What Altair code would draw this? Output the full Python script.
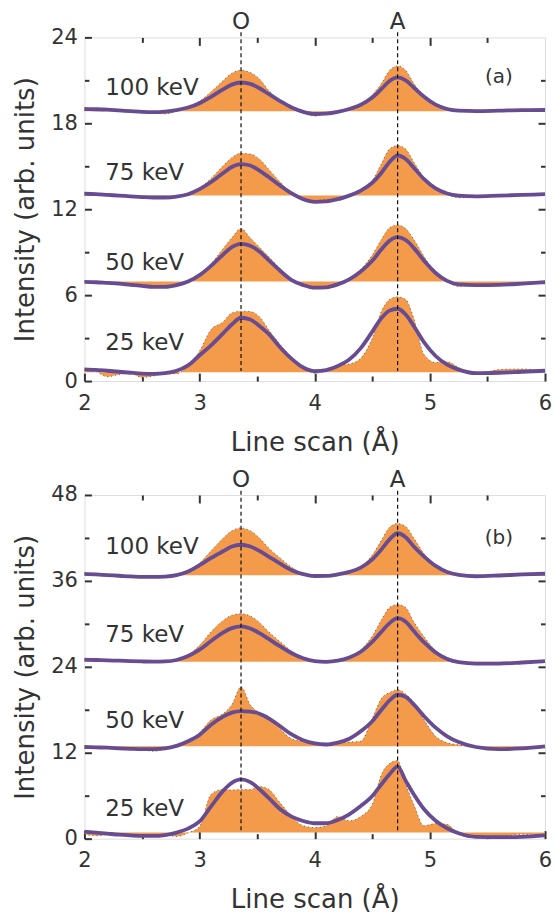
import altair as alt
import pandas as pd

# ---------------- data ----------------
X = [2.0, 2.1, 2.2, 2.3, 2.4, 2.5, 2.6, 2.7, 2.8, 2.9, 3.0, 3.1, 3.2, 3.28, 3.36,
     3.44, 3.52, 3.6, 3.7, 3.8, 3.9, 4.0, 4.1, 4.2, 4.3, 4.4, 4.5, 4.58, 4.65, 4.72,
     4.79, 4.86, 4.95, 5.05, 5.15, 5.25, 5.4, 5.6, 5.8, 6.0]

ENERGIES = ["100 keV", "75 keV", "50 keV", "25 keV"]

# panel (a)
A100_DATA = [19.0, 18.98, 18.95, 18.9, 18.85, 18.8, 18.75, 18.65, 18.85, 19.15, 19.55, 20.2, 20.95, 21.5, 21.7,
             21.55, 21.1, 20.3, 19.6, 19.05, 18.75, 18.5, 18.65, 18.75, 19.0, 19.35, 20.0, 20.8, 21.7, 22.0,
             21.7, 20.8, 19.9, 19.3, 19.0, 18.85, 18.9, 18.95, 18.95, 18.95]
A100_FIT = [19.0, 18.98, 18.95, 18.9, 18.85, 18.8, 18.78, 18.82, 18.92, 19.1, 19.4, 19.85, 20.35, 20.7, 20.85,
            20.75, 20.45, 20.05, 19.55, 19.1, 18.8, 18.65, 18.68, 18.8, 19.0, 19.3, 19.8, 20.4, 20.95, 21.2,
            21.0, 20.5, 19.85, 19.3, 19.0, 18.88, 18.85, 18.88, 18.92, 18.93]
A75_DATA = [13.15, 13.1, 13.0, 12.95, 12.9, 12.85, 12.8, 12.85, 12.9, 13.1, 13.5, 14.15, 15.0, 15.6, 15.9,
            15.85, 15.5, 14.8, 13.9, 13.15, 12.75, 12.6, 12.65, 12.6, 12.95, 13.35, 14.0, 15.2, 16.2, 16.45,
            16.2, 15.3, 14.2, 13.4, 13.05, 12.8, 12.85, 12.95, 13.05, 13.1]
A75_FIT = [13.08, 13.05, 13.0, 12.95, 12.9, 12.85, 12.82, 12.82, 12.88, 13.05, 13.4, 13.9, 14.5, 14.95, 15.15,
           15.05, 14.7, 14.25, 13.65, 13.1, 12.7, 12.52, 12.55, 12.7, 12.95, 13.3, 13.85, 14.55, 15.3, 15.75,
           15.5, 14.9, 14.1, 13.45, 13.1, 12.95, 12.9, 12.95, 13.0, 13.05]
A50_DATA = [6.95, 6.92, 6.88, 6.85, 6.8, 6.7, 6.55, 6.6, 6.75, 6.95, 7.45, 8.2, 9.2, 10.0, 10.65,
            10.0, 9.35, 8.7, 7.85, 7.1, 6.75, 6.45, 6.55, 6.75, 7.15, 7.8, 8.8, 9.9, 10.7, 10.9,
            10.65, 9.9, 8.7, 7.55, 6.95, 6.6, 6.7, 6.72, 6.85, 7.0]
A50_FIT = [6.93, 6.9, 6.85, 6.8, 6.72, 6.65, 6.58, 6.58, 6.7, 6.95, 7.4, 8.05, 8.8, 9.35, 9.58,
           9.45, 9.05, 8.45, 7.7, 7.05, 6.7, 6.52, 6.55, 6.75, 7.1, 7.65, 8.4, 9.2, 9.8, 10.05,
           9.85, 9.3, 8.4, 7.55, 7.0, 6.75, 6.7, 6.72, 6.8, 6.9]
A25_DATA = [0.8, 0.65, 0.3, 0.45, 0.55, 0.25, 0.35, 0.5, 0.5, 1.1, 2.1, 3.6, 4.1, 4.75, 4.88,
            4.85, 4.5, 3.6, 2.55, 1.65, 0.93, 0.55, 0.7, 1.1, 1.2, 1.6, 3.0, 4.9, 5.7, 5.88,
            5.7, 4.4, 1.85, 1.3, 1.35, 0.95, 0.5, 0.8, 0.85, 0.7]
A25_FIT = [0.82, 0.78, 0.72, 0.65, 0.58, 0.52, 0.5, 0.55, 0.72, 1.1, 1.8, 2.5, 3.3, 3.95, 4.42,
           4.3, 3.85, 3.3, 2.35, 1.55, 0.95, 0.7, 0.77, 1.05, 1.5, 2.3, 3.45, 4.4, 4.92, 5.05,
           4.65, 3.85, 2.7, 1.75, 1.15, 0.8, 0.55, 0.58, 0.65, 0.72]
A_BASE = [18.85, 12.95, 6.95, 0.62]

# panel (b)
B100_DATA = [36.95, 36.9, 36.8, 36.7, 36.6, 36.5, 36.45, 36.6, 36.85, 37.4, 38.5, 40.2, 41.9, 43.0, 43.4,
             43.0, 42.0, 40.6, 39.2, 37.9, 37.0, 36.5, 36.6, 36.85, 37.3, 38.0, 39.6, 41.7, 43.5, 44.0,
             43.6, 42.0, 39.8, 38.1, 37.2, 36.8, 36.7, 36.8, 36.9, 37.0]
B100_FIT = [36.97, 36.9, 36.8, 36.72, 36.62, 36.56, 36.55, 36.6, 36.8, 37.3, 38.2, 39.2, 40.1, 40.8, 41.05,
            40.8, 40.2, 39.4, 38.4, 37.5, 36.95, 36.68, 36.7, 36.9, 37.25, 37.85, 39.0, 40.4, 41.8, 42.65,
            42.1, 40.8, 39.4, 38.1, 37.25, 36.85, 36.65, 36.75, 36.9, 37.0]
B75_DATA = [25.0, 24.95, 24.85, 24.8, 24.75, 24.7, 24.65, 24.7, 25.0, 25.7, 27.0, 28.9, 30.4, 31.2, 31.4,
            31.1, 30.2, 28.9, 27.5, 26.2, 25.3, 24.75, 24.6, 24.85, 25.4, 26.4, 28.3, 30.6, 32.3, 32.7,
            32.3, 30.3, 28.2, 26.3, 25.3, 24.8, 24.5, 24.5, 24.6, 24.8]
B75_FIT = [25.0, 24.95, 24.9, 24.85, 24.8, 24.75, 24.72, 24.75, 24.95, 25.5, 26.4, 27.6, 28.75, 29.4, 29.65,
           29.35, 28.7, 27.9, 26.85, 25.9, 25.2, 24.8, 24.7, 24.85, 25.3, 26.1, 27.5, 28.9, 30.1, 30.8,
           30.3, 29.0, 27.4, 26.0, 25.1, 24.65, 24.45, 24.45, 24.6, 24.8]
B50_DATA = [12.85, 12.75, 12.7, 12.6, 12.5, 12.4, 12.2, 12.5, 12.9, 13.6, 14.8, 16.6, 17.4, 18.7, 21.2,
            18.7, 17.6, 17.1, 15.3, 13.95, 13.6, 13.4, 13.1, 13.35, 13.5, 13.6, 16.8, 19.6, 20.4, 20.8,
            20.2, 19.0, 16.6, 14.3, 13.4, 13.1, 12.75, 12.5, 12.7, 13.0]
B50_FIT = [12.8, 12.75, 12.7, 12.62, 12.55, 12.5, 12.5, 12.6, 12.95, 13.6, 14.5, 15.9, 17.0, 17.6, 17.82,
           17.75, 17.45, 16.8, 15.7, 14.55, 13.75, 13.3, 13.15, 13.4, 13.95, 15.0, 16.4, 18.0, 19.3, 20.1,
           19.8, 18.75, 17.1, 15.5, 14.3, 13.5, 12.8, 12.5, 12.6, 12.9]
B25_DATA = [0.6, 0.4, 0.55, 0.6, 0.45, 0.3, 0.5, 0.55, 0.3, 0.8, 1.7, 6.2, 6.88, 6.8, 6.85,
            6.85, 7.3, 6.9, 5.0, 3.1, 1.8, 1.55, 1.75, 3.1, 2.5, 3.1, 4.8, 9.0, 10.5, 10.9,
            7.6, 4.8, 1.8, 2.1, 2.0, 0.6, 0.15, 0.25, 0.6, 0.45]
B25_FIT = [0.98, 0.85, 0.7, 0.55, 0.45, 0.38, 0.38, 0.5, 0.85, 1.4, 2.4, 4.5, 6.6, 7.8, 8.28,
           7.9, 6.9, 5.7, 4.1, 3.07, 2.47, 2.15, 2.15, 2.6, 3.4, 4.55, 5.95, 7.6, 9.0, 10.05,
           8.1, 6.2, 4.1, 2.5, 1.45, 0.75, 0.25, 0.2, 0.25, 0.45]
B_BASE = [36.8, 24.7, 12.9, 0.85]

PEAKS_X = [3.36, 4.72]
PEAK_NAMES = ["O", "A"]

# annotation positions (data units)
LABEL_X = 2.18
A_LABEL_Y = [20.45, 14.5, 8.26, 2.67]
B_LABEL_Y = [40.7, 28.5, 16.4, 4.1]

X_MAJOR = [2, 3, 4, 5, 6]
X_MINOR = [2.5, 3.5, 4.5, 5.5]
A_Y_MAJOR = [0, 6, 12, 18, 24]
A_Y_MINOR = [3, 9, 15, 21]
B_Y_MAJOR = [0, 12, 24, 36, 48]
B_Y_MINOR = [6, 18, 30, 42]

# ---------------- style ----------------
ORANGE = "#F49A4B"
PURPLE = "#684C92"
INK = "#333333"
FONT = "DejaVu Sans"
W, H = 461, 344


def tick_axis(orient, values, size, labels=False, title=None, label_pad=0, title_pad=0):
    kw = dict(orient=orient, values=values, tickSize=size, offset=-size, domain=False,
              grid=False, ticks=True, tickColor=INK, tickWidth=2, labels=labels)
    if labels:
        kw.update(labelFont=FONT, labelFontSize=21, labelColor=INK, labelPadding=label_pad,
                  labelFlush=False, labelOverlap=False, format="d")
    if title is not None:
        kw.update(title=title, titleFont=FONT, titleFontSize=26, titleFontWeight="normal",
                  titleColor=INK, titlePadding=title_pad)
    else:
        kw.update(title=None)
    return alt.Axis(**kw)


def panel(datas, fits, bases, ymax, ymaj, ymin, label_y, tag, tag_y, peak_y, rule_top, rule_bot):
    rows = []
    for name, d, f, b in zip(ENERGIES, datas, fits, bases):
        assert len(d) == len(X) and len(f) == len(X)
        for x, dv, fv in zip(X, d, f):
            rows.append(dict(x=x, val=dv, fit=fv, base=b, series=name))
    df = pd.DataFrame(rows)

    xs = alt.Scale(domain=[2, 6], nice=False, zero=False)
    ys = alt.Scale(domain=[0, ymax], nice=False, zero=False)
    base = alt.Chart(df)

    area = base.mark_area(color=ORANGE, interpolate="monotone", opacity=1).encode(
        x=alt.X("x:Q", scale=xs,
                axis=tick_axis("bottom", X_MAJOR, 8, labels=True, title="Line scan (Å)",
                               label_pad=11, title_pad=16)),
        y=alt.Y("val:Q", scale=ys, stack=None,
                axis=tick_axis("left", ymaj, 7, labels=True, title="Intensity (arb. units)",
                               label_pad=7, title_pad=12)),
        y2="base:Q",
        detail="series:N",
    )
    dots = base.mark_line(color="#1a1a1a", strokeDash=[1.2, 2.8], strokeWidth=0.9,
                          interpolate="monotone", opacity=0.6).encode(
        x=alt.X("x:Q", scale=xs, axis=tick_axis("bottom", X_MINOR, 5)),
        y=alt.Y("val:Q", scale=ys, axis=tick_axis("left", ymin, 4.5)),
        detail="series:N",
    )
    fit = base.mark_line(color=PURPLE, strokeWidth=3.8, interpolate="monotone").encode(
        x=alt.X("x:Q", scale=xs, axis=tick_axis("top", X_MAJOR[1:-1], 8)),
        y=alt.Y("fit:Q", scale=ys, axis=tick_axis("right", ymaj[1:-1], 7)),
        detail="series:N",
    )
    rdf = pd.DataFrame({"x": PEAKS_X, "top": [rule_top] * 2, "bot": [rule_bot] * 2,
                        "name": PEAK_NAMES, "ty": [peak_y] * 2})
    rules = alt.Chart(rdf).mark_rule(color="#111111", strokeDash=[4, 3], strokeWidth=1.2).encode(
        x=alt.X("x:Q", scale=xs, axis=tick_axis("top", X_MINOR, 5)),
        y=alt.Y("top:Q", scale=ys, axis=tick_axis("right", ymin, 4.5)),
        y2="bot:Q",
    )
    peak_txt = alt.Chart(rdf).mark_text(font=FONT, fontSize=23, color=INK, baseline="middle").encode(
        x=alt.X("x:Q", scale=xs, axis=None),
        y=alt.Y("ty:Q", scale=ys, axis=None),
        text="name:N",
    )
    ldf = pd.DataFrame({"x": [LABEL_X] * 4, "y": label_y, "label": ENERGIES})
    labels = alt.Chart(ldf).mark_text(font=FONT, fontSize=23, color=INK, align="left",
                                      baseline="middle").encode(
        x=alt.X("x:Q", scale=xs, axis=None),
        y=alt.Y("y:Q", scale=ys, axis=None),
        text="label:N",
    )
    tdf = pd.DataFrame({"x": [5.6], "y": [tag_y], "t": [tag]})
    tagm = alt.Chart(tdf).mark_text(font=FONT, fontSize=20, color=INK, baseline="middle").encode(
        x=alt.X("x:Q", scale=xs, axis=None),
        y=alt.Y("y:Q", scale=ys, axis=None),
        text="t:N",
    )
    return alt.layer(area, dots, fit, rules, peak_txt, labels, tagm).resolve_axis(
        x="independent", y="independent").properties(width=W, height=H)


pa = panel([A100_DATA, A75_DATA, A50_DATA, A25_DATA], [A100_FIT, A75_FIT, A50_FIT, A25_FIT], A_BASE,
           24, A_Y_MAJOR, A_Y_MINOR, A_LABEL_Y, "(a)", 21.2, 25.05, 24.35, 0.7)
pb = panel([B100_DATA, B75_DATA, B50_DATA, B25_DATA], [B100_FIT, B75_FIT, B50_FIT, B25_FIT], B_BASE,
           48, B_Y_MAJOR, B_Y_MINOR, B_LABEL_Y, "(b)", 42.0, 50.1, 48.6, 0.85)

chart = alt.vconcat(pa, pb, spacing=12).properties(
    padding={"left": 11.5, "right": 0, "top": 10, "bottom": 0}
).configure_view(stroke=INK, strokeWidth=2.6).configure(font=FONT, background="white")

chart.save("out.html", embed_options={"renderer": "svg", "actions": False})
